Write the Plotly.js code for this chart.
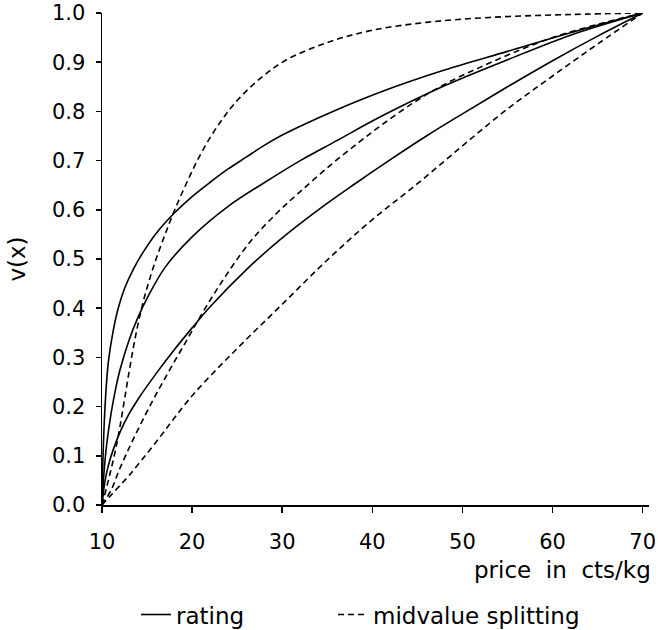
<!DOCTYPE html>
<html>
<head>
<meta charset="utf-8">
<script src="https://cdn.plot.ly/plotly-3.0.1.min.js"></script>
<style>html,body{margin:0;padding:0;background:#fff;}#chart{width:658px;height:630px;}</style>
</head>
<body>
<div id="chart"></div>
<script>
// Rating curves (solid)
var ratingAX = [10, 10.15, 10.4, 10.7, 11.2, 11.8, 12.5, 13.5, 14.5, 16, 18, 20, 22, 24, 26, 28, 30, 32, 36, 41, 48, 55, 62, 70];
var ratingAY = [0, 0.12, 0.22, 0.29, 0.35, 0.40, 0.44, 0.48, 0.512, 0.552, 0.593, 0.627, 0.656, 0.683, 0.707, 0.731, 0.752, 0.77, 0.803, 0.84, 0.884, 0.922, 0.96, 1.0];

var ratingBX = [10, 10.2, 10.5, 11, 11.5, 12, 13, 14, 15, 17, 20, 24, 28, 32, 36, 41, 48, 55, 62, 70];
var ratingBY = [0, 0.06, 0.12, 0.185, 0.235, 0.275, 0.335, 0.382, 0.42, 0.483, 0.545, 0.607, 0.655, 0.70, 0.74, 0.79, 0.852, 0.905, 0.955, 1.0];

var ratingCX = [10, 10.3, 10.7, 11.2, 12, 13, 14, 16, 18, 20, 22, 26, 30, 34, 38, 42, 46, 50, 55, 60, 65, 70];
var ratingCY = [0, 0.045, 0.08, 0.11, 0.148, 0.185, 0.215, 0.267, 0.315, 0.36, 0.403, 0.478, 0.543, 0.60, 0.652, 0.702, 0.75, 0.795, 0.85, 0.903, 0.953, 1.0];

// Midvalue splitting curves (dashed)
var midAX = [10, 10.5, 11, 11.5, 12, 12.5, 13, 13.5, 14, 14.6, 15.3, 16.1, 17, 18, 19.4, 21, 23, 25, 27.5, 30.3, 35, 40, 46, 53, 62, 70];
var midAY = [0, 0.035, 0.072, 0.112, 0.16, 0.215, 0.27, 0.322, 0.368, 0.415, 0.46, 0.505, 0.55, 0.597, 0.655, 0.715, 0.775, 0.822, 0.866, 0.903, 0.94, 0.965, 0.981, 0.991, 0.997, 1.0];

var midBX = [10, 11, 12, 13.5, 16, 19, 22.4, 26.4, 29.5, 32, 35.3, 38.5, 41, 44.6, 48, 52, 56, 60, 65, 70];
var midBY = [0, 0.03, 0.075, 0.135, 0.225, 0.322, 0.428, 0.534, 0.595, 0.637, 0.69, 0.737, 0.772, 0.818, 0.855, 0.89, 0.922, 0.95, 0.977, 1.0];

var midCX = [10, 11, 13, 16, 20, 25, 30, 35, 40, 45, 50, 55, 60, 65, 70];
var midCY = [0, 0.02, 0.06, 0.128, 0.222, 0.318, 0.408, 0.498, 0.58, 0.653, 0.73, 0.805, 0.872, 0.937, 1.0];

var xTicks = [10, 20, 30, 40, 50, 60, 70];
var yTicks = [0, 0.1, 0.2, 0.3, 0.4, 0.5, 0.6, 0.7, 0.8, 0.9, 1.0];
var yTickText = ['0.0', '0.1', '0.2', '0.3', '0.4', '0.5', '0.6', '0.7', '0.8', '0.9', '1.0'];

var FONT = 'DejaVu Sans, sans-serif';
var solid = {color: '#000', width: 1.6, shape: 'spline', smoothing: 1};
var dashed = {color: '#000', width: 1.6, dash: '6px,4px', shape: 'spline', smoothing: 1};

function tr(x, y, line, name, show, leg) {
  return {x: x, y: y, type: 'scatter', mode: 'lines', line: line, name: name,
          legendgroup: name, showlegend: show, legend: leg, hoverinfo: 'x+y'};
}

var data = [
  tr(ratingAX, ratingAY, solid, 'rating', true, 'legend'),
  tr(ratingBX, ratingBY, solid, 'rating', false, 'legend'),
  tr(ratingCX, ratingCY, solid, 'rating', false, 'legend'),
  tr(midAX, midAY, dashed, 'midvalue splitting', true, 'legend2'),
  tr(midBX, midBY, dashed, 'midvalue splitting', false, 'legend2'),
  tr(midCX, midCY, dashed, 'midvalue splitting', false, 'legend2')
];

var legendBase = {orientation: 'h', xanchor: 'left', y: -0.179, yanchor: 'top',
                  font: {family: FONT, size: 23, color: '#000'}, bgcolor: 'rgba(0,0,0,0)', itemwidth: 30};

var layout = {
  width: 658, height: 630,
  margin: {l: 102, r: 9, t: 13, b: 125, autoexpand: false},
  paper_bgcolor: '#fff', plot_bgcolor: '#fff',
  font: {family: FONT, color: '#000', size: 21},
  showlegend: true,
  legend: Object.assign({}, legendBase, {x: 0.0622}),
  legend2: Object.assign({}, legendBase, {x: 0.4223}),
  xaxis: {range: [10, 70.7], tickvals: xTicks, ticktext: xTicks.map(String),
          showgrid: false, zeroline: false, showline: true, linecolor: '#000', linewidth: 1.5,
          ticks: 'outside', ticklen: 6, tickwidth: 1.5, tickcolor: '#000',
          ticklabelstandoff: 11, tickfont: {family: FONT, size: 21}},
  yaxis: {range: [0, 1.0], tickvals: yTicks, ticktext: yTickText,
          showgrid: false, zeroline: false, showline: true, linecolor: '#000', linewidth: 1.5,
          ticks: 'outside', ticklen: 5, tickwidth: 1.5, tickcolor: '#000',
          ticklabelstandoff: 6, tickfont: {family: FONT, size: 21},
          title: {text: 'v(x)', font: {family: FONT, size: 23}, standoff: 20}},
  annotations: [{text: 'price&nbsp; in&nbsp; cts/kg', xref: 'paper', yref: 'paper',
                 x: 1, y: -0.102, xanchor: 'right', yanchor: 'top', xshift: 4, showarrow: false,
                 font: {family: FONT, size: 23, color: '#000'}}]
};

Plotly.newPlot('chart', data, layout, {staticPlot: true, displayModeBar: false});
</script>
</body>
</html>
